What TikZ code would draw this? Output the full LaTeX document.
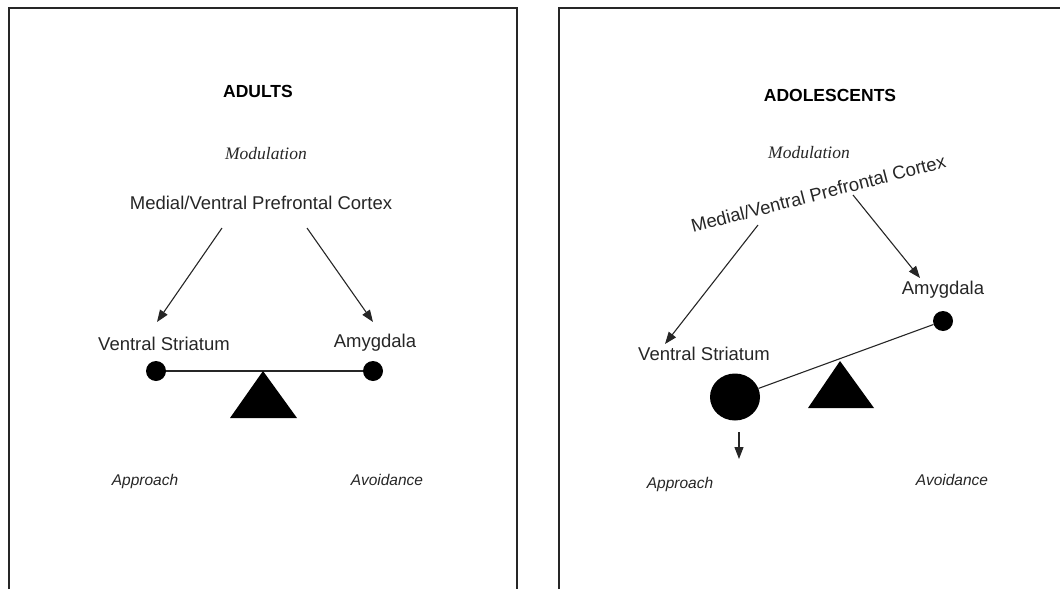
\documentclass[tikz,border=0pt]{standalone}
\usepackage{fontspec}
\setmainfont{Liberation Sans}
\newfontfamily\modfont{Liberation Serif}
\usetikzlibrary{arrows.meta,shapes.geometric}
\begin{document}
\begin{tikzpicture}[x=1pt,y=-1pt,
  lbl/.style={font=\fontsize{18.5}{20}\selectfont, inner sep=0pt, anchor=base, text=black!85},
  head/.style={font=\fontsize{17.5}{20}\selectfont\bfseries, inner sep=0pt, anchor=base},
  modl/.style={font=\fontsize{17.5}{20}\selectfont\modfont\itshape, inner sep=0pt, anchor=base, text=black!85},
  beh/.style={font=\fontsize{15.5}{18}\selectfont\itshape, inner sep=0pt, anchor=base, text=black!85},
  arr/.style={-{Triangle[length=12pt,width=9pt]}, line width=1.1pt, black!85},
  dot/.style={circle, fill=black, inner sep=0pt, minimum size=20pt},
  panel/.style={line width=2pt, black!85},
  beam/.style={line width=1.1pt, black!85}]
\useasboundingbox (0,0) rectangle (1060,589);
% panels
\draw[panel] (9,589) -- (9,8) -- (517,8) -- (517,589);
\draw[panel] (559,589) -- (559,8) -- (1060,8);

% ---------------- ADULTS ----------------
\node[head] (hA) at (258,97) {ADULTS};
\node[modl] (mA) at (266,159) {Modulation};
\node[lbl] (pA) at (261,209) {Medial/Ventral Prefrontal Cortex};
\node[lbl] (vA) at (164,350) {Ventral Striatum};
\node[lbl] (aA) at (375,347) {Amygdala};
\coordinate (pAl) at (222,228);
\coordinate (pAr) at (307,228);
\coordinate (vAt) at (157,322);
\coordinate (aAt) at (373,322);
\draw[arr] (pAl) -- (vAt);
\draw[arr] (pAr) -- (aAt);
\node[dot] (dvA) at (156,371) {};
\node[dot] (daA) at (373,371) {};
\draw[beam] (dvA) -- (daA);
\coordinate (tA1) at (263,371);
\coordinate (tA2) at (297,418);
\coordinate (tA3) at (230,418);
\fill (tA1) -- (tA2) -- (tA3) -- cycle;
\node[beh] (apA) at (145,485) {Approach};
\node[beh] (avA) at (387,485) {Avoidance};

% ---------------- ADOLESCENTS ----------------
\node[head] (hB) at (830,101) {ADOLESCENTS};
\node[modl] (mB) at (809,158) {Modulation};
\node[lbl, rotate=14.5] (pB) at (820,200) {Medial/Ventral Prefrontal Cortex};
\node[lbl] (vB) at (704,360) {Ventral Striatum};
\node[lbl] (aB) at (943,294) {Amygdala};
\coordinate (pBl) at (758,225);
\coordinate (pBr) at (853,195);
\coordinate (vBt) at (665,344);
\coordinate (aBt) at (920,278);
\draw[arr] (pBl) -- (vBt);
\draw[arr] (pBr) -- (aBt);
\node[ellipse, fill=black, inner sep=0pt, minimum width=50pt, minimum height=47pt] (dvB) at (735,397) {};
\node[dot] (daB) at (943,321) {};
\draw[beam] (dvB) -- (daB);
\coordinate (tB1) at (840,361);
\coordinate (tB2) at (874,408);
\coordinate (tB3) at (808,408);
\fill (tB1) -- (tB2) -- (tB3) -- cycle;
\coordinate (dB1) at (739,432);
\coordinate (dB2) at (739,459);
\draw[arr] (dB1) -- (dB2);
\node[beh] (apB) at (680,488) {Approach};
\node[beh] (avB) at (952,485) {Avoidance};
\end{tikzpicture}
\end{document}
